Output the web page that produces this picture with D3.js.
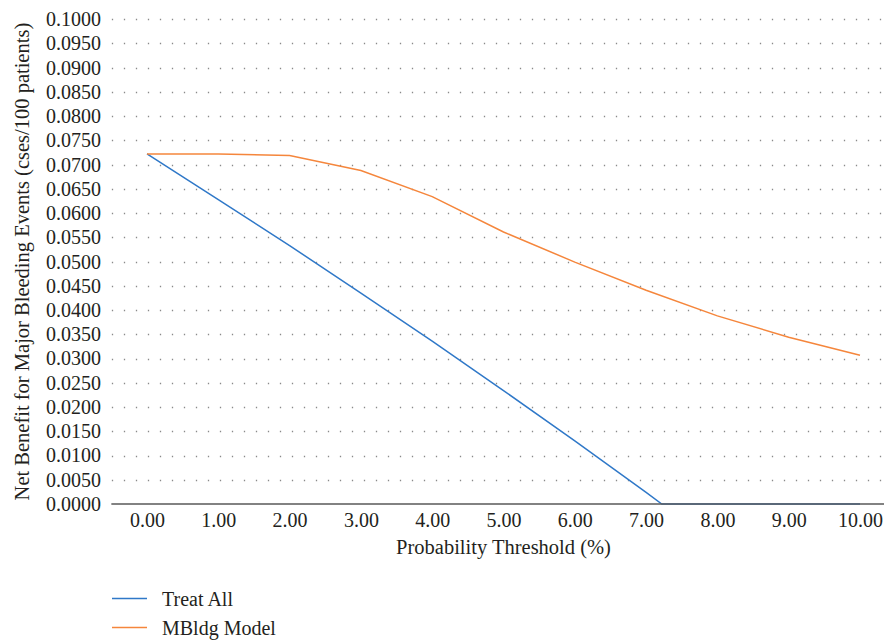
<!DOCTYPE html>
<html>
<head>
<meta charset="utf-8">
<script src="https://cdn.jsdelivr.net/npm/d3@7"></script>
<style>
  body { margin: 0; background: #fff; }
</style>
</head>
<body>
<svg id="chart" width="884" height="642"></svg>
<script>
// Decision curve: net benefit vs probability threshold

const thresholds = [0, 1, 2, 3, 4, 5, 6, 7, 8, 9, 10];
const yTicks = d3.range(0, 21).map(i => i * 0.005);

// Treat All: thresholds where it was read, incl. the zero crossing
const treatAllX = [0, 1, 2, 3, 4, 5, 6, 7, 7.22, 8, 9, 10];
const treatAllY = [0.0722, 0.0628, 0.0533, 0.0435, 0.0336, 0.0234, 0.0130, 0.0024, 0, 0, 0, 0];

// MBldg Model
const modelY = [0.0722, 0.0722, 0.0719, 0.0688, 0.0634, 0.0561, 0.0499, 0.0441, 0.0388, 0.0344, 0.0307];

const series = [
  {name: 'Treat All', color: '#2f78c8', xs: treatAllX, ys: treatAllY},
  {name: 'MBldg Model', color: '#f5863c', xs: thresholds, ys: modelY}
];

const W = 884, H = 642;
const FONT = "'Liberation Serif'";
const TEXT = '#231f20';
const svg = d3.select('#chart');

const x = d3.scaleLinear().domain([0, 10]).range([147, 860]);
const y = d3.scaleLinear().domain([0, 0.1]).range([504, 19.2]);
const gridLeft = x(-0.5);

// dotted grid lines
svg.append('g')
  .selectAll('line')
  .data(yTicks.filter(d => d > 0))
  .enter().append('line')
    .attr('x1', gridLeft + 0.5)
    .attr('x2', W)
    .attr('y1', d => Math.round(y(d)) + 0.5)
    .attr('y2', d => Math.round(y(d)) + 0.5)
    .attr('stroke', '#8a8a8a')
    .attr('stroke-width', 1.3)
    .attr('stroke-dasharray', '1.3,10.7');

const styleTicks = g => {
  g.attr('font-family', FONT).attr('font-size', 20);
  g.select('.domain').remove();
  g.selectAll('text').attr('fill', TEXT);
};

// y axis labels
const yAxis = d3.axisLeft(y).tickValues(yTicks).tickFormat(d3.format('.4f')).tickSize(0).tickPadding(0);
svg.append('g')
  .attr('transform', 'translate(101,0)')
  .call(yAxis)
  .call(styleTicks);

// x axis
const xAxis = d3.axisBottom(x).tickValues(thresholds).tickFormat(d3.format('.2f')).tickSize(0).tickPadding(9);
svg.append('g')
  .attr('transform', `translate(0,${y(0)})`)
  .call(xAxis)
  .call(styleTicks);

// lines
const line = d3.line().x(d => x(d[0])).y(d => y(d[1]));
svg.append('g')
  .selectAll('path')
  .data(series)
  .enter().append('path')
    .attr('d', d => line(d.xs.map((v, i) => [v, d.ys[i]])))
    .attr('fill', 'none')
    .attr('stroke', d => d.color)
    .attr('stroke-width', 1.5);

// baseline axis line
svg.append('line')
  .attr('x1', gridLeft)
  .attr('x2', W)
  .attr('y1', y(0))
  .attr('y2', y(0))
  .attr('stroke', '#595959')
  .attr('stroke-width', 1.6);

// axis titles
svg.append('text')
  .attr('x', (x(0) + x(10)) / 2)
  .attr('y', 554)
  .attr('text-anchor', 'middle')
  .attr('fill', TEXT)
  .attr('font-family', FONT)
  .attr('font-size', 20.5)
  .text('Probability Threshold (%)');

svg.append('text')
  .attr('transform', `translate(29,${(y(0) + y(0.1)) / 2}) rotate(-90)`)
  .attr('text-anchor', 'middle')
  .attr('fill', TEXT)
  .attr('font-family', FONT)
  .attr('font-size', 20.5)
  .text('Net Benefit for Major Bleeding Events (cses/100 patients)');

// legend
const legend = svg.append('g')
  .selectAll('g')
  .data(series)
  .enter().append('g')
    .attr('transform', (d, i) => `translate(112,${598.5 + i * 29})`);
legend.append('line')
  .attr('x1', 0)
  .attr('x2', 35)
  .attr('stroke', d => d.color)
  .attr('stroke-width', 1.5);
legend.append('text')
  .attr('x', 50)
  .attr('y', 7.5)
  .attr('fill', TEXT)
  .attr('font-family', FONT)
  .attr('font-size', 20)
  .text(d => d.name);
</script>
</body>
</html>
